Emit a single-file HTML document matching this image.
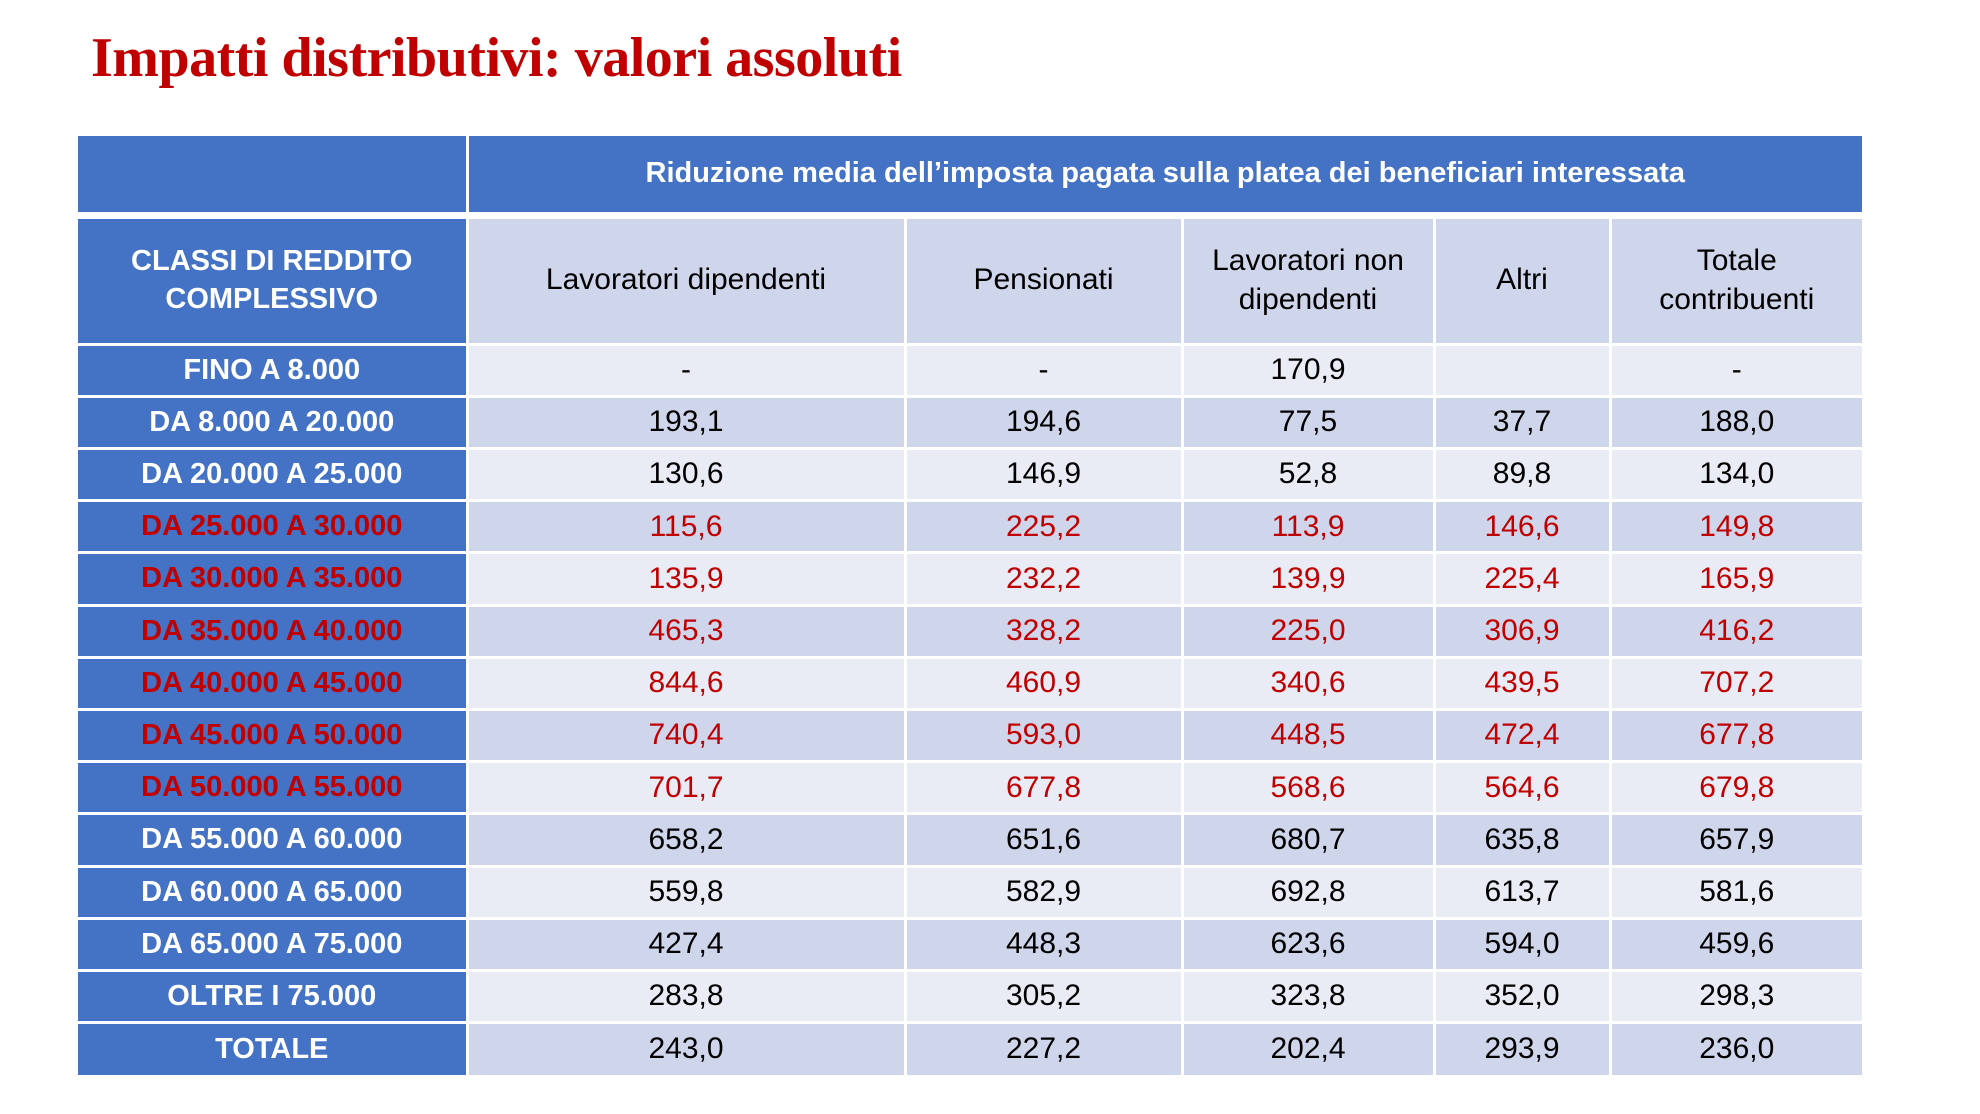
<!DOCTYPE html>
<html><head><meta charset="utf-8">
<style>
html,body{margin:0;padding:0;background:#fff;}
body{width:1980px;height:1114px;position:relative;overflow:hidden;font-family:"Liberation Sans",sans-serif;}
#title{position:absolute;left:91px;top:26px;font-family:"Liberation Serif",serif;font-weight:bold;color:#C00000;font-size:56px;white-space:nowrap;letter-spacing:-0.5px;}
.c{position:absolute;box-sizing:border-box;display:flex;align-items:center;justify-content:center;text-align:center;font-size:30px;line-height:1.28;color:#000;}
.hb{background:#4472C4;color:#fff;font-weight:bold;font-size:29px;}
.dk{background:#CFD5EA;}
.lt{background:#E9EBF5;}
.red{color:#C00000;}
</style></head><body>
<div id="title">Impatti distributivi: valori assoluti</div>
<div id="tbl"></div>
<script>
const classes=["FINO A 8.000","DA 8.000 A 20.000","DA 20.000 A 25.000","DA 25.000 A 30.000","DA 30.000 A 35.000","DA 35.000 A 40.000","DA 40.000 A 45.000","DA 45.000 A 50.000","DA 50.000 A 55.000","DA 55.000 A 60.000","DA 60.000 A 65.000","DA 65.000 A 75.000","OLTRE I 75.000","TOTALE"];
const colHeaders=["Lavoratori dipendenti","Pensionati","Lavoratori non<br>dipendenti","Altri","Totale<br>contribuenti"];
const lavDip=["-","193,1","130,6","115,6","135,9","465,3","844,6","740,4","701,7","658,2","559,8","427,4","283,8","243,0"];
const pensionati=["-","194,6","146,9","225,2","232,2","328,2","460,9","593,0","677,8","651,6","582,9","448,3","305,2","227,2"];
const lavNonDip=["170,9","77,5","52,8","113,9","139,9","225,0","340,6","448,5","568,6","680,7","692,8","623,6","323,8","202,4"];
const altri=["","37,7","89,8","146,6","225,4","306,9","439,5","472,4","564,6","635,8","613,7","594,0","352,0","293,9"];
const totale=["-","188,0","134,0","149,8","165,9","416,2","707,2","677,8","679,8","657,9","581,6","459,6","298,3","236,0"];
const redRows=[3,4,5,6,7,8];
const series=[lavDip,pensionati,lavNonDip,altri,totale];
const xs=[78,467,905,1182,1434,1610,1862];
const tbl=document.getElementById('tbl');
const G=1.5;
function cell(x0,y0,x1,y1,cls,html){
  const d=document.createElement('div');
  d.className='c '+cls;
  d.style.left=(x0+G)+'px';d.style.top=(y0+G)+'px';
  d.style.width=(x1-x0-2*G)+'px';d.style.height=(y1-y0-2*G)+'px';
  d.innerHTML=html;tbl.appendChild(d);return d;
}
let d;
d=cell(xs[0]-G,136-G,xs[1],213,'hb','');


d=cell(xs[1],136-G,xs[6]+G,213,'hb','Riduzione media dell\u2019imposta pagata sulla platea dei beneficiari interessata');


d=cell(xs[0]-G,217,xs[1],344,'hb','CLASSI DI REDDITO<br>COMPLESSIVO');


for(let j=0;j<5;j++){
  d=cell(xs[j+1],217,xs[j+2]+(j==4?G:0),344,'dk',colHeaders[j]);
  
  
}
const top0=344,rh=(1075-344)/classes.length;
for(let i=0;i<classes.length;i++){
  const y0=top0+i*rh,y1=y0+rh+(i==classes.length-1?G:0);
  const red=redRows.includes(i)?' red':'';
  d=cell(xs[0]-G,y0,xs[1],y1,'hb'+red,classes[i]);
  
  
  const band=(i%2==0)?'lt':'dk';
  for(let j=0;j<5;j++){
    d=cell(xs[j+1],y0,xs[j+2]+(j==4?G:0),y1,band+red,series[j][i]);
    
    
  }
}
</script>
</body></html>
